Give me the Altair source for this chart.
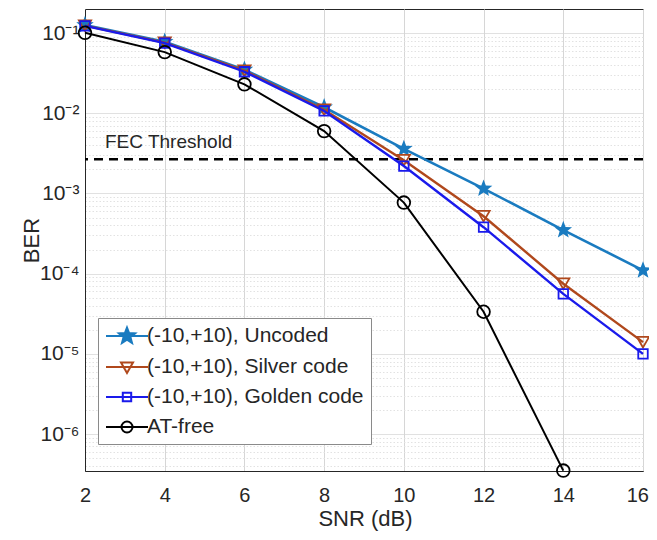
import math
import altair as alt
import pandas as pd

# ---- data ----
snr = [2, 4, 6, 8, 10, 12, 14, 16]
uncoded = [0.126, 0.078, 0.035, 0.0119, 0.0036, 0.00115, 0.00035, 0.00011]
silver = [0.124, 0.076, 0.034, 0.0111, 0.0026, 0.00052, 7.5e-5, 1.4e-5]
golden = [0.123, 0.075, 0.033, 0.0107, 0.0022, 0.00038, 5.6e-5, 1.0e-5]
snr_free = [2, 4, 6, 8, 10, 12, 14]
atfree = [0.101, 0.058, 0.023, 0.006, 0.00077, 3.35e-5, 3.5e-7]
fec = [0.00268]
fec_label = ["FEC Threshold"]

series_names = ["(-10,+10), Uncoded", "(-10,+10), Silver code",
                "(-10,+10), Golden code", "AT-free"]
series_colors = ["#1a7bc0", "#b0481c", "#1a1aeb", "#000000"]
decade_exps = [-7, -6, -5, -4, -3, -2, -1]
y_domain = [3.46e-7, 0.2]
x_ticks = [2, 4, 6, 8, 10, 12, 14, 16]

FONT = "Liberation Sans"
TXT = "#262626"

# y tick values: decades plus minor multiples (for MATLAB-like minor grid)
yvals = []
for e in decade_exps:
    for m in range(1, 10):
        v = m * 10.0 ** e
        if y_domain[0] <= v < y_domain[1] * 0.999:
            yvals.append(float(f"{v:.3g}"))

SUP = str.maketrans("-0123456789", "⁻⁰¹²³⁴⁵⁶⁷⁸⁹")
L = "(log(datum.value)/LN10)"
DEC = f"abs({L} - round({L})) < 0.001"
inner = "''"
for e in decade_exps:
    inner = f"(round({L}) == {e} ? '10{str(e).translate(SUP)}' : {inner})"
label_expr = f"{DEC} ? {inner} : ''"

y_axis = alt.Axis(
    orient="left",
    values=yvals, labelExpr=label_expr, labelOverlap=False, ticks=False,
    tickSize=0, labelPadding=6, labelFontSize=21, labelFont=FONT,
    labelColor=TXT, domainColor=TXT, domainWidth=1,
    gridColor={"condition": {"test": DEC, "value": "#d6d6d6"}, "value": "#e2e2e2"},
    gridDash={"condition": {"test": DEC, "value": [1, 0]}, "value": [1.5, 2]},
    gridWidth=1,
    title="BER", titleFontSize=22, titleFont=FONT, titleColor=TXT,
    titleFontWeight="normal", titleX=-54, titleY=231, titleAngle=270,
    titleAlign="center", titleBaseline="middle",
)
x_axis = alt.Axis(
    orient="bottom",
    values=x_ticks, format="d", ticks=False, tickSize=0, labelPadding=14,
    labelFontSize=20, labelFont=FONT, labelColor=TXT, domainColor=TXT,
    gridColor="#d6d6d6", labelFlush=True, labelFlushOffset=5.5,
    title="SNR (dB)", titleFontSize=22, titleFont=FONT, titleColor=TXT,
    titleFontWeight="normal", titleX=280, titleY=47, titleAlign="center",
    titleBaseline="middle",
)

xs = alt.Scale(domain=[2, 16], nice=False)
ys = alt.Scale(type="log", domain=y_domain, nice=False)


def X():
    return alt.X("snr:Q", scale=xs, axis=x_axis)


def Y():
    return alt.Y("ber:Q", scale=ys, axis=y_axis)


def star_path(ro, ri):
    pts = []
    for k in range(10):
        r = ro if k % 2 == 0 else ri
        a = -math.pi / 2 + k * math.pi / 5
        pts.append(f"{r*math.cos(a):.3f},{r*math.sin(a):.3f}")
    return "M" + "L".join(pts) + "Z"


frames = [
    pd.DataFrame({"snr": snr, "ber": uncoded}),
    pd.DataFrame({"snr": snr, "ber": silver}),
    pd.DataFrame({"snr": snr, "ber": golden}),
    pd.DataFrame({"snr": snr_free, "ber": atfree}),
]
markers = [(star_path(1.0, 0.42), 340, True), ("triangle-down", 150, False),
           ("square", 90, False), ("circle", 160, False)]
widths = [2.6, 2.4, 2.4, 2.0]

layers = []
# FEC threshold
fec_df = pd.DataFrame({"ber": fec, "label": fec_label, "snr": [snr[0]]})
layers.append(alt.Chart(fec_df).mark_rule(color="black", strokeWidth=2.5,
                                          strokeDash=[9, 6]).encode(y=Y()))
layers.append(alt.Chart(fec_df).mark_text(align="left", baseline="middle",
                                          dx=20, dy=-17, fontSize=19,
                                          font=FONT, color=TXT).encode(
    x=X(), y=Y(), text="label:N"))

for df, col, (shp, sz, filled), w in zip(frames, series_colors, markers, widths):
    base = alt.Chart(df)
    layers.append(base.mark_line(color=col, strokeWidth=w).encode(x=X(), y=Y()))
    layers.append(base.mark_point(shape=shp, size=sz, filled=filled,
                                  color=col, strokeWidth=1.8, opacity=1)
                  .encode(x=X(), y=Y()))

# legend symbols: line + marker in one custom path
line = "M-2.1,0L2.1,0"
leg_paths = [
    line + star_path(0.85, 0.36),
    line + "M-0.6,-0.45L0.6,-0.45L0,0.6Z",
    line + "M-0.42,-0.42L0.42,-0.42L0.42,0.42L-0.42,0.42Z",
    line + "M0.55,0A0.55,0.55 0 1,1 -0.55,0A0.55,0.55 0 1,1 0.55,0Z",
]
leg_fills = [series_colors[0], "transparent", "transparent", "transparent"]
leg_df = pd.DataFrame({"series": series_names})
layers.append(
    alt.Chart(leg_df).mark_point(filled=False, opacity=1, strokeWidth=2)
    .transform_filter("false")
    .encode(
        color=alt.Color("series:N", scale=alt.Scale(domain=series_names, range=series_colors),
                        legend=alt.Legend(title=None)),
        shape=alt.Shape("series:N", scale=alt.Scale(domain=series_names, range=leg_paths),
                        legend=alt.Legend(title=None)),
        fill=alt.Fill("series:N", scale=alt.Scale(domain=series_names, range=leg_fills),
                      legend=alt.Legend(title=None)),
    )
)

chart = (
    alt.layer(*layers)
    .properties(width=558, height=462,
                autosize=alt.AutoSizeParams(type="none"),
                padding={"left": 77, "top": 1, "right": 6, "bottom": 60})
    .configure_view(stroke=TXT, strokeWidth=1)
    .configure_legend(
        orient="none", legendX=13, legendY=309, padding=7,
        strokeColor="#8a8a8a", fillColor="white", cornerRadius=0,
        symbolSize=400, symbolStrokeWidth=2, symbolOffset=11, labelOffset=9,
        rowPadding=9, labelFontSize=21, labelFont=FONT, labelColor=TXT,
        labelLimit=400,
    )
)

chart.save("out.html", embed_options={"renderer": "svg", "actions": False})
